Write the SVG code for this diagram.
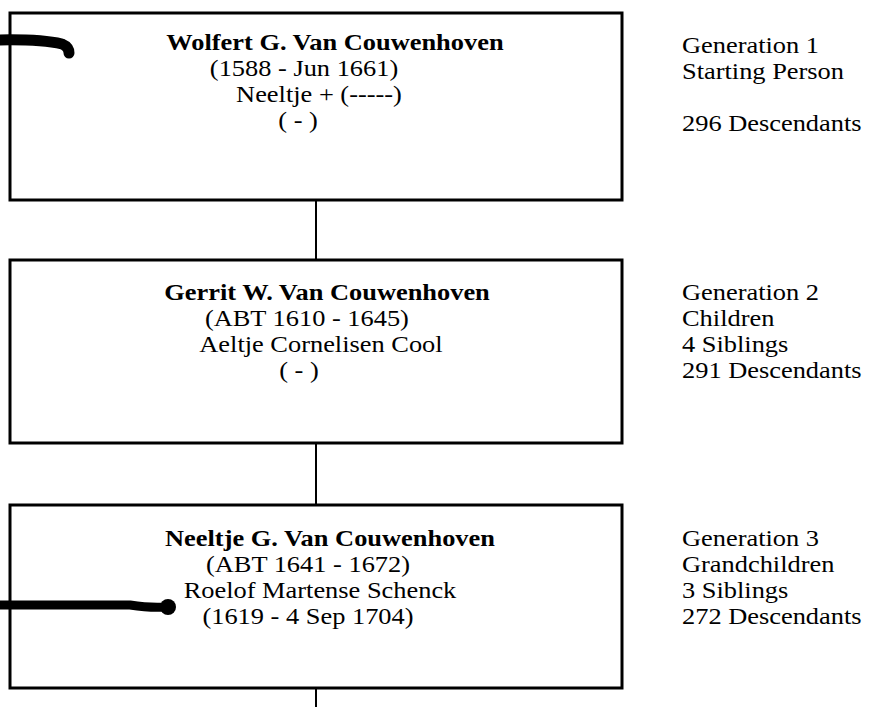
<svg xmlns="http://www.w3.org/2000/svg" width="877" height="707" viewBox="0 0 877 707">
<style>
.box{fill:#fff;stroke:#000;stroke-width:3}
.t{font-family:"Liberation Serif","Times New Roman",serif;font-size:24px;fill:#000}
.c{text-anchor:middle}
.b{font-weight:bold}
.conn{stroke:#000;stroke-width:2;fill:none}
.ink{stroke:#000;fill:none;stroke-linecap:round;stroke-linejoin:round}
</style>
<rect width="877" height="707" fill="#fff"/>
<g id="connectors">
<line class="conn" x1="316" y1="200" x2="316" y2="260"/>
<line class="conn" x1="316" y1="443" x2="316" y2="505"/>
<line class="conn" x1="316" y1="688" x2="316" y2="707"/>
</g>
<g id="node1">
<rect class="box" x="10" y="13" width="612" height="187"/>
<g transform="scale(1.1 1)">
<text class="t c b" x="304.5" y="50">Wolfert G. Van Couwenhoven</text>
<text class="t c" x="276.4" y="76">(1588 - Jun 1661)</text>
<text class="t c" x="290" y="102">Neeltje + (-----)</text>
<text class="t c" x="271" y="128">( - )</text>
</g>
</g>
<g id="node2">
<rect class="box" x="10" y="260" width="612" height="183"/>
<g transform="scale(1.1 1)">
<text class="t c b" x="297.3" y="300">Gerrit W. Van Couwenhoven</text>
<text class="t c" x="279" y="326">(ABT 1610 - 1645)</text>
<text class="t c" x="291.8" y="352">Aeltje Cornelisen Cool</text>
<text class="t c" x="271.8" y="378">( - )</text>
</g>
</g>
<g id="node3">
<rect class="box" x="10" y="505" width="612" height="183"/>
<g transform="scale(1.1 1)">
<text class="t c b" x="300" y="546">Neeltje G. Van Couwenhoven</text>
<text class="t c" x="280" y="572">(ABT 1641 - 1672)</text>
<text class="t c" x="290.9" y="598">Roelof Martense Schenck</text>
<text class="t c" x="280" y="624">(1619 - 4 Sep 1704)</text>
</g>
</g>
<g id="gen1" transform="scale(1.1 1)">
<text class="t" x="620" y="53">Generation 1</text>
<text class="t" x="620" y="79">Starting Person</text>
<text class="t" x="620" y="131">296 Descendants</text>
</g>
<g id="gen2" transform="scale(1.1 1)">
<text class="t" x="620" y="300">Generation 2</text>
<text class="t" x="620" y="326">Children</text>
<text class="t" x="620" y="352">4 Siblings</text>
<text class="t" x="620" y="378">291 Descendants</text>
</g>
<g id="gen3" transform="scale(1.1 1)">
<text class="t" x="620" y="546">Generation 3</text>
<text class="t" x="620" y="572">Grandchildren</text>
<text class="t" x="620" y="598">3 Siblings</text>
<text class="t" x="620" y="624">272 Descendants</text>
</g>
<g id="marks">
<path class="ink" d="M-4,40 Q40,39 62,44 Q69,47 69,53" stroke-width="11"/>
<path class="ink" d="M-4,605 L130,605 Q150,608 165,607" stroke-width="9"/>
<circle cx="168" cy="607" r="8" fill="#000"/>
</g>
</svg>
